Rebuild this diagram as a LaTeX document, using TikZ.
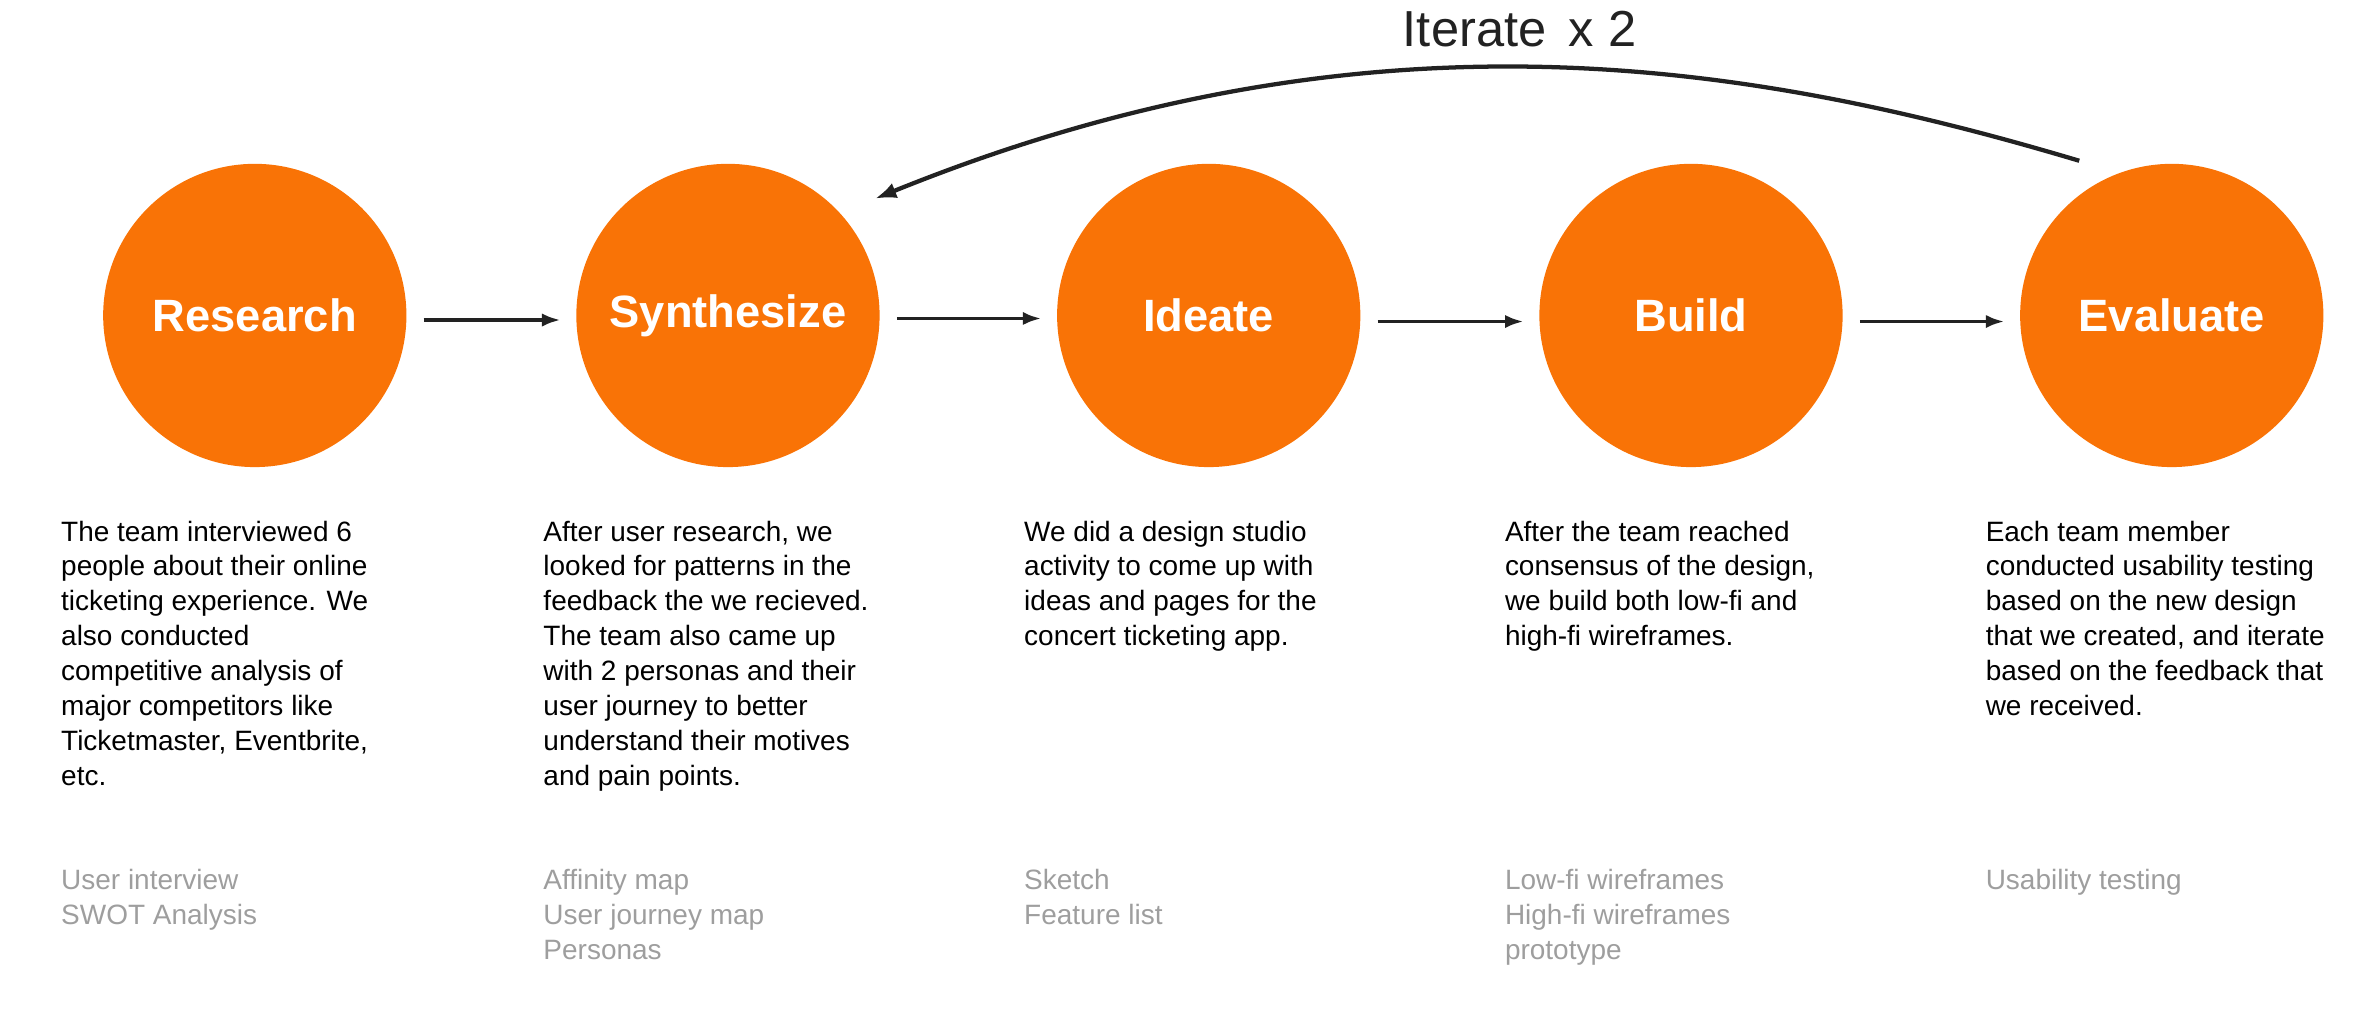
\documentclass[tikz,border=0pt]{standalone}
\usepackage{fontspec}
\setmainfont{Liberation Sans}
\usetikzlibrary{arrows.meta}
\definecolor{org}{HTML}{F97306}
\definecolor{dk}{HTML}{222222}
\definecolor{gr}{HTML}{9E9E9E}
\begin{document}
\begin{tikzpicture}[x=0.02cm,y=-0.02cm,
  stage/.style={circle,fill=org,minimum size=4cm,inner sep=0pt,text=white,font=\fontsize{17}{20}\selectfont\bfseries},
  desc/.style={anchor=north west,align=left,inner sep=0pt,text=black,font=\fontsize{10.5}{13.1}\selectfont},
  tool/.style={desc,text=gr},
  arr/.style={-{Latex[length=7pt,width=5pt]},line width=1.4pt,dk,shorten <=11*0.02cm,shorten >=10*0.02cm}]
\useasboundingbox (0,0) rectangle (1568,680);
\node[stage] (r) at (168,208) {Research};
\node[stage] (s) at (480,208) {Synthesize};
\node[stage] (i) at (797,208) {Ideate};
\node[stage] (b) at (1115,208) {Build};
\node[stage] (e) at (1432,208) {Evaluate};
\draw[arr] ([yshift=-3*0.02cm]r.east) -- ([yshift=-3*0.02cm]s.west);
\draw[arr] ([yshift=-2*0.02cm]s.east) -- ([yshift=-2*0.02cm]i.west);
\draw[arr] ([yshift=-4*0.02cm]i.east) -- ([yshift=-4*0.02cm]b.west);
\draw[arr] ([yshift=-4*0.02cm]b.east) -- ([yshift=-4*0.02cm]e.west);
\coordinate (c1) at (1371,106);
\coordinate (c2) at (577,131);
\draw[-{Latex[length=8pt,width=6pt]},line width=1.6pt,dk] (c1) .. controls (1150,40) and (900,0) .. (c2);
\node[text=dk,font=\fontsize{19}{22}\selectfont] (it) at (1002,19) {Iterate\, x 2};
\node[desc] (d1) at (40,343) {The team interviewed 6\\people about their online\\ticketing experience. We\\also conducted\\competitive analysis of\\major competitors like\\Ticketmaster, Eventbrite,\\etc.};
\node[desc] (d2) at (358,343) {After user research, we\\looked for patterns in the\\feedback the we recieved.\\The team also came up\\with 2 personas and their\\user journey to better\\understand their motives\\and pain points.};
\node[desc] (d3) at (675,343) {We did a design studio\\activity to come up with\\ideas and pages for the\\concert ticketing app.};
\node[desc] (d4) at (992,343) {After the team reached\\consensus of the design,\\we build both low-fi and\\high-fi wireframes.};
\node[desc] (d5) at (1309,343) {Each team member\\conducted usability testing\\based on the new design\\that we created, and iterate\\based on the feedback that\\we received.};
\node[tool] (t1) at (40,573) {User interview\\SWOT Analysis};
\node[tool] (t2) at (358,573) {Affinity map\\User journey map\\Personas};
\node[tool] (t3) at (675,573) {Sketch\\Feature list};
\node[tool] (t4) at (992,573) {Low-fi wireframes\\High-fi wireframes\\prototype};
\node[tool] (t5) at (1309,573) {Usability testing};
\end{tikzpicture}
\end{document}
